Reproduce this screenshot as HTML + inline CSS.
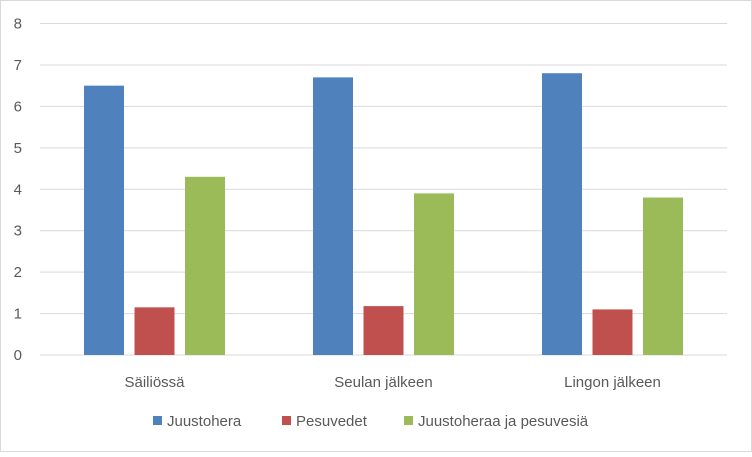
<!DOCTYPE html>
<html><head><meta charset="utf-8"><style>
body{margin:0;background:#fff;font-family:"Liberation Sans",sans-serif}
svg text{font-family:"Liberation Sans",sans-serif;fill:#595959}
</style></head><body>
<svg width="752" height="452">
<rect x="0.5" y="0.5" width="751" height="451" fill="#fff" stroke="#d9d9d9"/>
<g id="grid"></g><g id="bars"></g><g id="xl"></g><g id="legend"></g>
</svg>
<script>
const categories=["Säiliössä","Seulan jälkeen","Lingon jälkeen"];
const seriesNames=["Juustohera","Pesuvedet","Juustoheraa ja pesuvesiä"];
const juustohera=[6.5,6.7,6.8];
const pesuvedet=[1.15,1.18,1.1];
const sekoitus=[4.3,3.9,3.8];
const yTicks=[0,1,2,3,4,5,6,7,8];
const colors=["#4f81bd","#c0504d","#9bbb59"];
const series=[juustohera,pesuvedet,sekoitus];
const NS="http://www.w3.org/2000/svg";
const x0=40,x1=727,yBase=355,yTop=23.5,yMax=8;
const y=v=>yBase-(v/yMax)*(yBase-yTop);
const gw=(x1-x0)/categories.length;
function mk(t,a,p){const e=document.createElementNS(NS,t);for(const k in a)e.setAttribute(k,a[k]);p.appendChild(e);return e;}
const grid=document.getElementById('grid');
yTicks.forEach(t=>{
 const l=mk('line',{x1:x0,x2:x1,y1:y(t),y2:y(t),stroke:'#d9d9d9','stroke-width':1},grid);
 
 
 const tx=mk('text',{x:22,y:y(t)+5,'text-anchor':'end','font-size':15},grid);tx.textContent=t;
 
 
});
const bars=document.getElementById('bars'),xl=document.getElementById('xl');
const bw=40,step=50.5;
categories.forEach((c,i)=>{
 const cx=x0+gw*(i+0.5);
 series.forEach((s,j)=>{
  const bx=cx-bw/2+(j-1)*step;
  const r=mk('rect',{x:bx,y:y(s[i]),width:bw,height:yBase-y(s[i]),fill:colors[j]},bars);
  
  
 });
 const t=mk('text',{x:cx,y:387,'text-anchor':'middle','font-size':15},xl);t.textContent=c;
 
 
});
const lg=document.getElementById('legend');
const lx=[153,282,404];
seriesNames.forEach((n,j)=>{
 const r=mk('rect',{x:lx[j],y:416,width:9,height:9,fill:colors[j]},lg);
 
 
 const t=mk('text',{x:lx[j]+14,y:426,'font-size':15},lg);t.textContent=n;
 
 
});
</script>
</body></html>
